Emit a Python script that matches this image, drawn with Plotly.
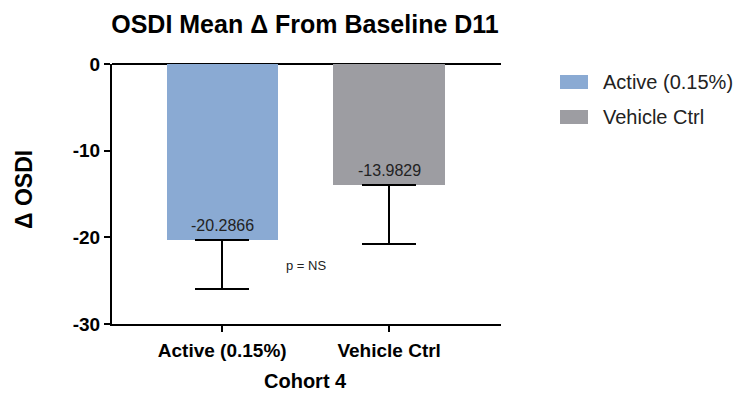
import plotly.graph_objects as go

# Cohort 4: mean change in OSDI from baseline at day 11
groups = ["Active (0.15%)", "Vehicle Ctrl"]
mean_change = [-20.2866, -13.9829]
err_down = [5.7, 6.75]
bar_colors = ["#8aaad3", "#9d9da2"]
value_labels = ["-20.2866", "-13.9829"]
y_ticks = [0, -10, -20, -30]

FONT = "Liberation Sans, Arial, sans-serif"

# plot-area pixel geometry, used to place the legend and axis titles
L, R, T, B = 112, 501, 64, 324
W, H = 755, 394


def px_x(px):
    return (px - L) / (R - L)


def px_y(py):
    return (B - py) / (B - T)


fig = go.Figure()
for i, g in enumerate(groups):
    fig.add_trace(go.Bar(
        x=[g], y=[mean_change[i]], name=g,
        marker=dict(color=bar_colors[i], line=dict(width=0)),
        width=0.667,
        error_y=dict(type="data", symmetric=False, array=[0], arrayminus=[err_down[i]],
                     color="black", thickness=2, width=27),
        showlegend=False,
    ))
    # value label sitting just above the bar's lower edge
    fig.add_annotation(x=g, y=mean_change[i], xref="x", yref="y", text=value_labels[i],
                       showarrow=False, yanchor="bottom", yshift=4,
                       font=dict(family=FONT, size=16, color="#222222"))

fig.add_annotation(x=0.5, y=-23.3, xref="x", yref="y", text="p = NS", showarrow=False,
                   font=dict(family=FONT, size=13, color="#222222"))

# legend: wide colour swatches with labels
for i, g in enumerate(groups):
    cy = 82 + 35 * i
    fig.add_shape(type="rect", xref="paper", yref="paper",
                  x0=px_x(560), x1=px_x(588), y0=px_y(cy + 7), y1=px_y(cy - 7),
                  fillcolor=bar_colors[i], line=dict(width=0))
    fig.add_annotation(xref="paper", yref="paper", x=px_x(601), y=px_y(cy),
                       xanchor="left", yanchor="middle", text=g, showarrow=False,
                       font=dict(family=FONT, size=20, color="#222222"))

# axis titles
fig.add_annotation(xref="paper", yref="paper", x=px_x(305), y=px_y(381),
                   xanchor="center", yanchor="middle", text="<b>Cohort 4</b>", showarrow=False,
                   font=dict(family=FONT, size=20, color="black"))
fig.add_annotation(xref="paper", yref="paper", x=px_x(24), y=px_y(190),
                   xanchor="center", yanchor="middle", text="<b>Δ OSDI</b>", showarrow=False,
                   textangle=-90, font=dict(family=FONT, size=23, color="black"))

fig.update_layout(
    width=W, height=H,
    margin=dict(l=L, r=W - R, t=T, b=H - B),
    paper_bgcolor="white", plot_bgcolor="white",
    title=dict(text="<b>OSDI Mean Δ From Baseline D11</b>", x=305 / W, xanchor="center",
               y=1 - 24 / H, yanchor="middle",
               font=dict(family=FONT, size=25, color="black")),
    showlegend=False,
    bargap=0,
)

fig.update_xaxes(
    type="category", range=[-0.66, 1.67], automargin=False,
    showline=True, linecolor="black", linewidth=2,
    ticks="outside", ticklen=6, tickwidth=2, tickcolor="black",
    tickfont=dict(family=FONT, size=19, color="black"),
    tickvals=groups, ticktext=[f"<b>{g}</b>" for g in groups],
    ticklabelstandoff=2,
    showgrid=False, zeroline=False,
)

fig.update_yaxes(
    range=[-30, 0], automargin=False,
    showline=True, linecolor="black", linewidth=2,
    ticks="outside", ticklen=6, tickwidth=2, tickcolor="black",
    tickvals=y_ticks, ticktext=[f"<b>{v}</b>" for v in y_ticks],
    tickfont=dict(family=FONT, size=19, color="black"),
    showgrid=False, zeroline=True, zerolinecolor="black", zerolinewidth=2,
)

fig.write_html("out.html")
